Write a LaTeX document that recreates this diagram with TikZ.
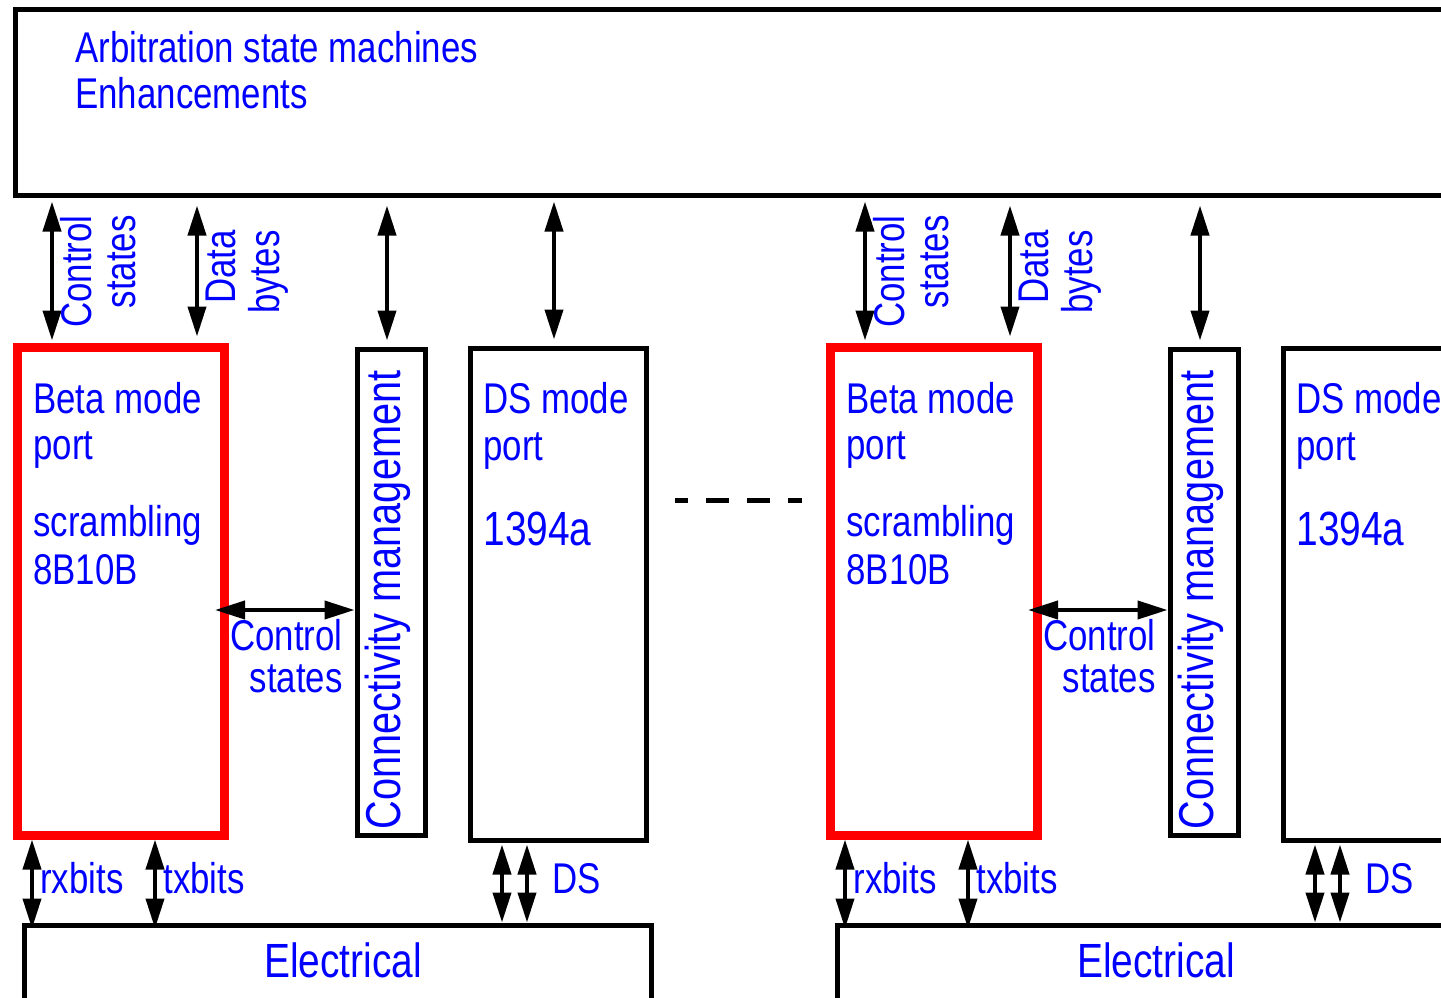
\documentclass[tikz,border=0pt]{standalone}
\usepackage{fontspec}
\setmainfont{Liberation Sans}[FakeStretch=0.81]
\usetikzlibrary{arrows.meta}
\definecolor{tblue}{RGB}{0,0,255}
\definecolor{tred}{RGB}{255,0,0}
\newcommand{\fsnorm}{\fontsize{21.5}{22.5}\selectfont}
\newcommand{\fsbig}{\fontsize{24}{25}\selectfont}
\newcommand{\fscon}{\fontsize{24.5}{25.5}\selectfont}
\begin{document}
\begin{tikzpicture}[x=0.5pt,y=-0.5pt,
  blackbox/.style={draw=black, line width=2.5pt, fill=white, inner sep=0pt},
  redbox/.style={draw=tred, line width=4.5pt, fill=white, inner sep=0pt},
  txt/.style={text=tblue, inner sep=0pt, font=\fsnorm},
  bigtxt/.style={text=tblue, inner sep=0pt, font=\fsbig},
  dbl/.style={line width=2pt, {Triangle[width=9pt,length=15pt]}-{Triangle[width=9pt,length=15pt]}},
  dashline/.style={line width=2.5pt, dash pattern=on 11.5pt off 9pt, dash phase=5pt}
]
\useasboundingbox (0,0) rectangle (1441,997);
\clip (0,0) rectangle (1441,997);

% top box
\node[blackbox, minimum width=722.5pt, minimum height=93pt] (top) at (737.5,102) {};
\node[txt, anchor=base west] (arb) at (75,62) {Arbitration state machines};
\node[txt, anchor=base west] (enh) at (75,108) {Enhancements};

\foreach \dx/\s/\f in {0/a/1,813/b/0}{
  % boxes
  \node[redbox, minimum width=103.5pt, minimum height=244pt] (beta\s) at (\dx+121,591) {};
  \node[blackbox, minimum width=34pt, minimum height=243pt] (conn\s) at (\dx+391,592) {};
  \node[blackbox, minimum width=88pt, minimum height=246pt] (ds\s) at (\dx+558,594) {};
  \node[blackbox, minimum width=313.5pt, minimum height=45pt] (elec\s) at (\dx+337.5,970) {};

  % box texts
  \node[txt, anchor=base west] (bm1\s) at (\dx+33,413) {Beta mode};
  \node[txt, anchor=base west] (bm2\s) at (\dx+33,459) {port};
  \node[txt, anchor=base west] (bm3\s) at (\dx+33,536) {scrambling};
  \node[txt, anchor=base west] (bm4\s) at (\dx+33,584) {8B10B};
  \node[txt, anchor=base west] (dm1\s) at (\dx+483,413) {DS mode};
  \node[txt, anchor=base west] (dm2\s) at (\dx+483,460) {port};
  \node[bigtxt, anchor=base west] (dm3\s) at (\dx+483,545) {1394a};
  \node[text=tblue, inner sep=0pt, font=\fscon, rotate=90, anchor=base] (ct\s) at (\dx+400,600) {Connectivity management};
  \node[bigtxt, anchor=base] (et\s) at (\dx+343,977) {Electrical};

  % vertical arrows to top box
  \draw[dbl, shorten <=2pt, shorten >=1pt] (top.south -| \dx+52,0) -- (beta\s.north -| \dx+52,0);
  \draw[dbl, shorten <=4pt, shorten >=3pt] (top.south -| \dx+197,0) -- (beta\s.north -| \dx+197,0);
  \draw[dbl, shorten <=4pt, shorten >=3pt] (top.south -| \dx+387,0) -- (conn\s.north -| \dx+387,0);
  \ifnum\f=1
    \draw[dbl, shorten <=2pt, shorten >=3pt] (top.south -| \dx+554,0) -- (ds\s.north -| \dx+554,0);
  \fi

  \node[txt, rotate=90, anchor=base east] (cs1\s) at (\dx+91,215) {Control};
  \node[txt, rotate=90, anchor=base east] (cs2\s) at (\dx+135,215) {states};
  \node[txt, rotate=90, anchor=base east] (db1\s) at (\dx+235,230) {Data};
  \node[txt, rotate=90, anchor=base east] (db2\s) at (\dx+279,230) {bytes};

  % horizontal control arrow
  \draw[dbl, shorten <=-7pt] (beta\s.east |- 0,610) -- (conn\s.west |- 0,610);
  \node[txt, anchor=base east] (hc1\s) at (\dx+343,650) {Control};
  \node[txt, anchor=base east] (hc2\s) at (\dx+343,692) {states};

  % bottom arrows
  \draw[dbl, shorten >=-3pt] (beta\s.south -| \dx+32,0) -- (elec\s.north -| \dx+32,0);
  \draw[dbl, shorten >=-3pt] (beta\s.south -| \dx+155,0) -- (elec\s.north -| \dx+155,0);
  \draw[dbl, shorten <=1pt] (ds\s.south -| \dx+502,0) -- (elec\s.north -| \dx+502,0);
  \draw[dbl, shorten <=1pt] (ds\s.south -| \dx+527,0) -- (elec\s.north -| \dx+527,0);
  \node[txt, anchor=base west] (rx\s) at (\dx+40,893) {rxbits};
  \node[txt, anchor=base west] (tx\s) at (\dx+163,893) {txbits};
  \node[txt, anchor=base west] (dsl\s) at (\dx+552,893) {DS};
}

% dashes between groups
\coordinate (dashA) at (675,500);
\coordinate (dashB) at (802,500);
\draw[dashline] (dashA) -- (dashB);
\end{tikzpicture}
\end{document}
